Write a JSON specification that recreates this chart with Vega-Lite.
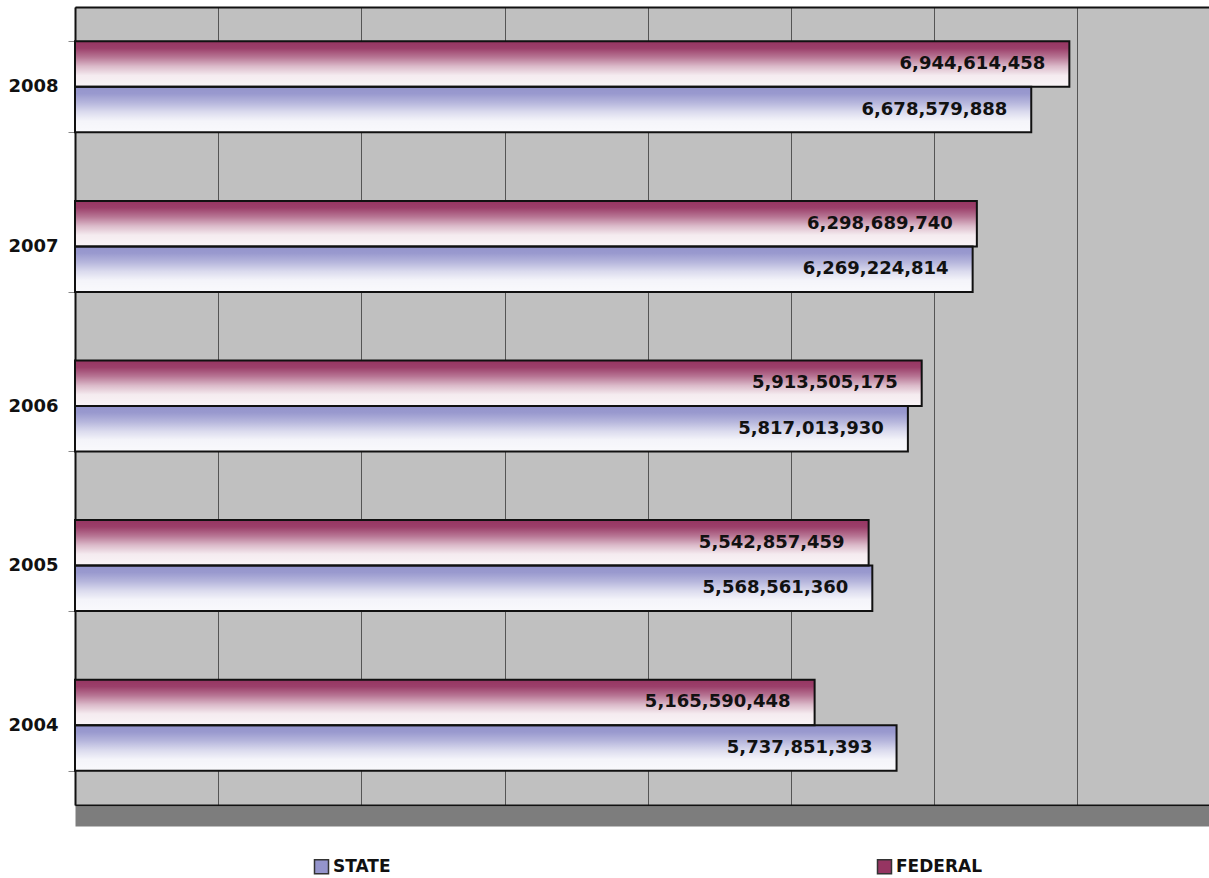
{
  "$schema": "https://vega.github.io/schema/vega-lite/v6.json",
  "autosize": {"type": "none"},
  "width": 1134,
  "height": 798,
  "padding": {"left": 75, "top": 7, "right": 0, "bottom": 73},
  "background": "white",
  "config": {
    "view": {"stroke": null, "fill": "#c0c0c0"},
    "font": "DejaVu Sans"
  },
  "data": {
    "values": [
      {"year": "2008", "series": "FEDERAL", "value": 6944614458},
      {"year": "2008", "series": "STATE", "value": 6678579888},
      {"year": "2007", "series": "FEDERAL", "value": 6298689740},
      {"year": "2007", "series": "STATE", "value": 6269224814},
      {"year": "2006", "series": "FEDERAL", "value": 5913505175},
      {"year": "2006", "series": "STATE", "value": 5817013930},
      {"year": "2005", "series": "FEDERAL", "value": 5542857459},
      {"year": "2005", "series": "STATE", "value": 5568561360},
      {"year": "2004", "series": "FEDERAL", "value": 5165590448},
      {"year": "2004", "series": "STATE", "value": 5737851393}
    ]
  },
  "encoding": {
    "y": {
      "field": "year",
      "type": "ordinal",
      "sort": "descending",
      "scale": {"paddingInner": 0.43, "paddingOuter": 0.215},
      "axis": {
        "title": null,
        "labelFont": "DejaVu Sans",
        "labelFontSize": 18,
        "labelFontWeight": "bold",
        "labelColor": "#111111",
        "labelPadding": 10,
        "tickSize": 7,
        "tickColor": "#888888",
        "tickBand": "extent",
        "domainColor": "#111111",
        "domainWidth": 2,
        "grid": false
      }
    },
    "yOffset": {
      "field": "series",
      "type": "nominal",
      "sort": ["FEDERAL", "STATE"],
      "scale": {"paddingInner": 0, "paddingOuter": 0}
    },
    "x": {
      "field": "value",
      "type": "quantitative",
      "scale": {"domain": [0, 7920000000], "nice": false, "zero": true}
    }
  },
  "layer": [
    {
      "mark": {"type": "bar"},
      "encoding": {
        "x": {
          "field": "value",
          "type": "quantitative",
          "axis": {
            "orient": "bottom",
            "title": null,
            "labels": false,
            "ticks": false,
            "grid": true,
            "gridColor": "#555555",
            "gridWidth": 1,
            "values": [0, 1000000000, 2000000000, 3000000000, 4000000000, 5000000000, 6000000000, 7000000000],
            "domainColor": "#111111",
            "domainWidth": 2
          }
        },
        "color": {
          "field": "series",
          "type": "nominal",
          "scale": {"domain": ["STATE", "FEDERAL"], "range": ["#9494cc", "#963562"]},
          "legend": {
            "title": null,
            "orient": "none",
            "legendX": 238,
            "legendY": 851,
            "direction": "horizontal",
            "columns": 2,
            "columnPadding": 483,
            "padding": 0,
            "symbolType": "square",
            "symbolSize": 196,
            "symbolStrokeColor": "#333333",
            "symbolStrokeWidth": 1.5,
            "symbolOpacity": 1,
            "labelFont": "DejaVu Sans",
            "labelFontSize": 17,
            "labelFontWeight": "bold",
            "labelColor": "#111111",
            "labelOffset": 3
          }
        }
      }
    },
    {
      "mark": {
        "type": "bar",
        "stroke": "#111111",
        "strokeWidth": 2,
        "fill": {
          "gradient": "linear",
          "x1": 0, "y1": 0, "x2": 0, "y2": 1,
          "stops": [
            {"offset": 0, "color": "rgba(255,255,255,0)"},
            {"offset": 0.15, "color": "rgba(255,255,255,0.05)"},
            {"offset": 0.35, "color": "rgba(255,255,255,0.32)"},
            {"offset": 0.55, "color": "rgba(255,255,255,0.66)"},
            {"offset": 0.75, "color": "rgba(255,255,255,0.9)"},
            {"offset": 1, "color": "rgba(255,255,255,0.95)"}
          ]
        }
      },
      "encoding": {
        "x": {
          "field": "value",
          "type": "quantitative",
          "axis": {
            "orient": "top",
            "title": null,
            "labels": false,
            "ticks": false,
            "grid": false,
            "domainColor": "#111111",
            "domainWidth": 2
          }
        }
      }
    },
    {
      "mark": {
        "type": "text",
        "align": "right",
        "baseline": "middle",
        "dx": -24,
        "font": "DejaVu Sans",
        "fontSize": 18,
        "fontWeight": "bold",
        "color": "#111111"
      },
      "encoding": {
        "x": {
          "field": "value",
          "type": "quantitative",
          "axis": {
            "orient": "bottom",
            "title": null,
            "labels": false,
            "ticks": false,
            "grid": false,
            "domainColor": "#5c5c5c",
            "domainWidth": 20,
            "domainOpacity": 0.8,
            "offset": 11
          }
        },
        "text": {"field": "value", "type": "quantitative", "format": ","}
      }
    }
  ],
  "resolve": {"axis": {"x": "independent"}}
}
